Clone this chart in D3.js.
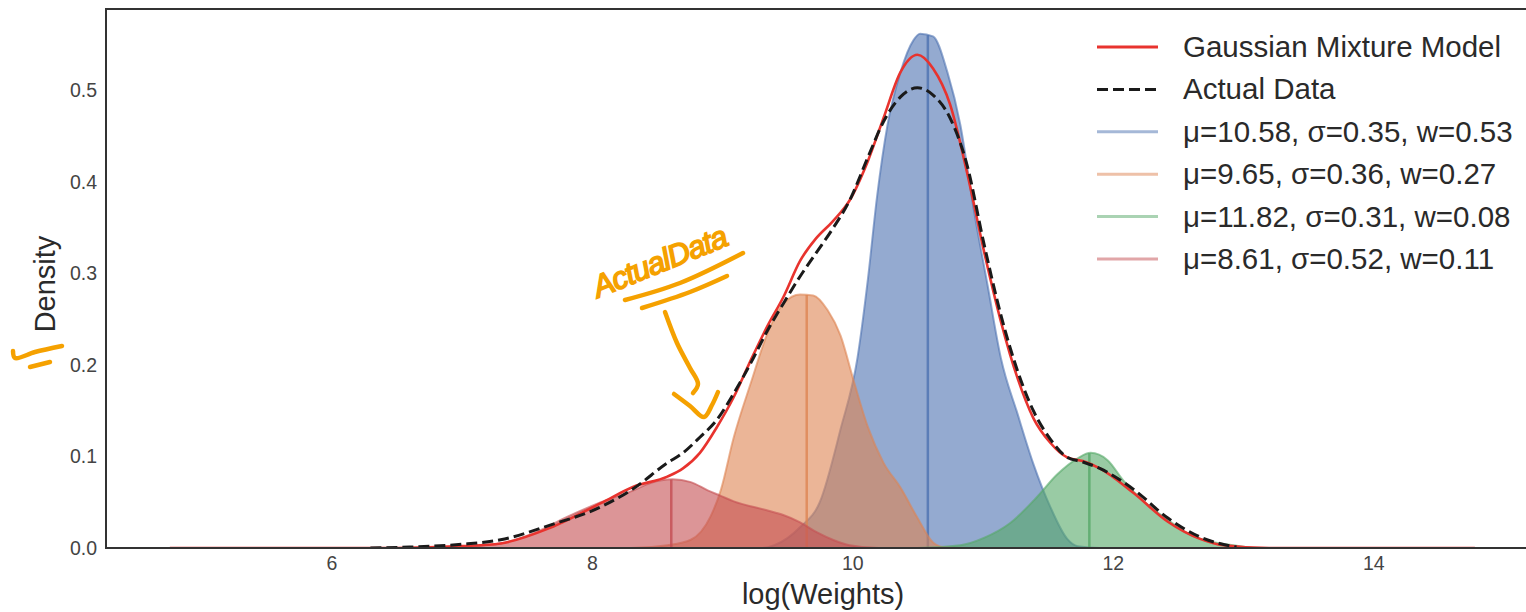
<!DOCTYPE html>
<html>
<head>
<meta charset="utf-8">
<script src="https://cdn.jsdelivr.net/npm/d3@7"></script>
<style>
  body { margin: 0; background: #fff; }
  svg { display: block; font-family: "Liberation Sans", Arial, sans-serif; }
</style>
</head>
<body>
<svg id="chart" width="1526" height="612"></svg>
<script>
// --- data: [log(weight), density] ---
var gmmLine = [[4.76,0],[6.5,0],[7.0,0.002],[7.3,0.005],[7.68,0.022],[8.07,0.049],[8.32,0.067],[8.58,0.078],
  [8.7,0.087],[8.83,0.104],[8.96,0.132],[9.09,0.165],[9.22,0.205],[9.35,0.243],[9.47,0.274],[9.6,0.314],
  [9.72,0.338],[9.85,0.357],[9.98,0.38],[10.12,0.423],[10.24,0.47],[10.37,0.52],[10.5,0.539],[10.62,0.524],
  [10.75,0.485],[10.88,0.411],[11.01,0.325],[11.14,0.248],[11.27,0.185],[11.39,0.142],[11.52,0.115],
  [11.65,0.099],[11.77,0.095],[11.9,0.087],[12.16,0.06],[12.42,0.029],[12.67,0.01],[12.85,0.003],[13.2,0],[14.78,0]];

var actualData = [[6.3,0],[6.6,0.001],[7.0,0.004],[7.3,0.009],[7.68,0.025],[8.07,0.045],
  [8.32,0.065],[8.58,0.093],[8.7,0.104],[8.83,0.121],[8.96,0.14],[9.09,0.169],[9.22,0.202],[9.35,0.238],
  [9.47,0.267],[9.6,0.297],[9.72,0.322],[9.85,0.349],[9.98,0.38],[10.12,0.427],[10.24,0.466],[10.37,0.493],
  [10.5,0.503],[10.62,0.495],[10.75,0.47],[10.88,0.419],[11.01,0.333],[11.14,0.255],[11.27,0.193],
  [11.39,0.15],[11.52,0.119],[11.65,0.099],[11.77,0.094],[11.9,0.087],[12.16,0.064],[12.42,0.033],
  [12.67,0.012],[12.95,0.001]];

var compBlue = [[4.76,0],[9.3,0],[9.4,0.003],[9.6,0.023],[9.75,0.05],[9.91,0.13],[10.04,0.208],[10.12,0.294],
  [10.19,0.384],[10.27,0.462],[10.37,0.52],[10.47,0.555],[10.52,0.562],[10.62,0.559],[10.73,0.52],
  [10.83,0.462],[10.93,0.372],[11.04,0.286],[11.14,0.208],[11.27,0.146],[11.39,0.092],[11.52,0.045],
  [11.65,0.01],[11.73,0.002],[11.9,0],[14.78,0]];
var compOrange = [[4.76,0],[8.3,0],[8.58,0.003],[8.76,0.009],[8.91,0.034],[8.99,0.063],[9.09,0.121],[9.22,0.18],
  [9.35,0.235],[9.47,0.267],[9.6,0.277],[9.7,0.276],[9.81,0.26],[9.91,0.232],[10.01,0.183],[10.12,0.132],
  [10.24,0.093],[10.37,0.066],[10.5,0.033],[10.62,0.006],[10.7,0.001],[10.9,0],[14.78,0]];
var compGreen = [[4.76,0],[10.5,0],[10.83,0.003],[11.01,0.011],[11.21,0.027],[11.42,0.056],[11.57,0.08],
  [11.73,0.098],[11.83,0.104],[11.96,0.096],[12.08,0.074],[12.23,0.052],[12.42,0.031],[12.6,0.014],
  [12.75,0.007],[12.93,0.003],[13.1,0],[14.78,0]];
var compRed = [[4.76,0],[6.6,0],[7.0,0.001],[7.17,0.003],[7.3,0.005],[7.55,0.016],[7.81,0.034],[8.07,0.05],
  [8.32,0.063],[8.45,0.071],[8.62,0.075],[8.76,0.072],[8.89,0.063],[8.99,0.057],[9.09,0.051],[9.35,0.041],
  [9.47,0.036],[9.6,0.028],[9.73,0.017],[9.85,0.009],[9.98,0.003],[10.2,0],[14.78,0]];

var compMeans = [10.58, 9.65, 11.82, 8.61];
var compSigmas = ["0.35", "0.36", "0.31", "0.52"];
var compWeights = ["0.53", "0.27", "0.08", "0.11"];
var compColors = ["#4c72b0", "#dd8452", "#55a868", "#c44e52"];
var compCurves = [compBlue, compOrange, compGreen, compRed];

var xTicks = [6, 8, 10, 12, 14];
var yTicks = [0, 0.1, 0.2, 0.3, 0.4, 0.5];

// --- layout ---
var svg = d3.select("#chart");
var plotLeft = 106, plotTop = 9, plotRight = 1540, plotBottom = 548;
var x = d3.scaleLinear().domain([4.27, 15.28]).range([plotLeft, plotRight]);
var y = d3.scaleLinear().domain([0, 0.589]).range([plotBottom, plotTop]);

svg.append("defs").append("clipPath").attr("id", "plotclip")
  .append("rect").attr("x", plotLeft).attr("y", plotTop)
  .attr("width", plotRight - plotLeft).attr("height", plotBottom - plotTop);

var plot = svg.append("g").attr("clip-path", "url(#plotclip)");

var line = d3.line().x(function(d){ return x(d[0]); }).y(function(d){ return y(d[1]); }).curve(d3.curveMonotoneX);
var area = d3.area().x(function(d){ return x(d[0]); }).y0(y(0)).y1(function(d){ return y(d[1]); }).curve(d3.curveMonotoneX);

// value of a curve at v (linear between read points)
function valueAt(curve, v){
  for (var i = 1; i < curve.length; i++){
    if (curve[i][0] >= v){
      var a = curve[i-1], b = curve[i];
      return a[1] + (b[1]-a[1]) * (v-a[0]) / (b[0]-a[0]);
    }
  }
  return 0;
}

// components: fill, edge, mean line
compCurves.forEach(function(c, i){
  plot.append("path").attr("d", area(c)).attr("fill", compColors[i]).attr("fill-opacity", 0.6);
  plot.append("path").attr("d", line(c)).attr("fill", "none")
    .attr("stroke", compColors[i]).attr("stroke-opacity", 0.6).attr("stroke-width", 2);
  plot.append("line")
    .attr("x1", x(compMeans[i])).attr("x2", x(compMeans[i]))
    .attr("y1", y(0)).attr("y2", y(valueAt(c, compMeans[i])))
    .attr("stroke", compColors[i]).attr("stroke-opacity", 0.8).attr("stroke-width", 2.5);
});

plot.append("path").attr("d", line(gmmLine)).attr("fill", "none")
  .attr("stroke", "#e8332e").attr("stroke-width", 2.6);
plot.append("path").attr("d", line(actualData)).attr("fill", "none")
  .attr("stroke", "#1a1a1a").attr("stroke-width", 3).attr("stroke-dasharray", "11,5");

// spines
svg.append("path")
  .attr("d", "M" + plotRight + "," + plotTop + "H" + plotLeft + "V" + plotBottom + "H" + plotRight)
  .attr("fill", "none").attr("stroke", "#333").attr("stroke-width", 2);

// axes
var xAxis = svg.append("g").attr("transform", "translate(0," + plotBottom + ")")
  .call(d3.axisBottom(x).tickValues(xTicks).tickSize(0).tickPadding(8).tickFormat(d3.format("d")));
var yAxis = svg.append("g").attr("transform", "translate(" + plotLeft + ",0)")
  .call(d3.axisLeft(y).tickValues(yTicks).tickSize(0).tickPadding(9).tickFormat(d3.format(".1f")));
[xAxis, yAxis].forEach(function(a){
  a.select(".domain").remove();
  a.selectAll("text").attr("fill", "#444").style("font-size", "19.5px")
    .style("font-family", "'Liberation Sans', Arial, sans-serif");
});

svg.append("text").attr("x", (plotLeft + plotRight) / 2).attr("y", 604).attr("text-anchor", "middle")
  .attr("fill", "#2a2a2a").style("font-size", "29px").text("log(Weights)");
svg.append("text").attr("transform", "translate(55,284) rotate(-90)").attr("text-anchor", "middle")
  .attr("fill", "#2a2a2a").style("font-size", "29px").text("Density");

// legend
var legendLabels = ["Gaussian Mixture Model", "Actual Data"].concat(compMeans.map(function(m, i){
  return "\u03bc=" + m + ", \u03c3=" + compSigmas[i] + ", w=" + compWeights[i];
}));
var legend = svg.append("g").attr("transform", "translate(1097,47)");
legendLabels.forEach(function(t, i){
  var g = legend.append("g").attr("transform", "translate(0," + i * 42.4 + ")");
  var l = g.append("line").attr("x1", 0).attr("x2", 61).attr("y1", 0).attr("y2", 0);
  if (i === 0) l.attr("stroke", "#e8332e").attr("stroke-width", 2.8);
  else if (i === 1) l.attr("stroke", "#1a1a1a").attr("stroke-width", 3).attr("stroke-dasharray", "11,5");
  else l.attr("stroke", compColors[i-2]).attr("stroke-opacity", 0.5).attr("stroke-width", 3);
  g.append("text").attr("x", 86).attr("y", 10).attr("fill", "#2a2a2a").style("font-size", "29.5px").text(t);
});

// hand-drawn orange annotation
var ink = "#f5a100";
var note = svg.append("g").attr("fill", "none").attr("stroke", ink).attr("stroke-width", 4.5)
  .attr("stroke-linecap", "round").attr("stroke-linejoin", "round");
var scribble = d3.line().curve(d3.curveCatmullRom);
var strokes = [
  [[625,300],[680,283],[743,253]],
  [[642,308],[690,292],[727,276]],
  [[665,312],[677,343],[690,368],[698,384],[693,393]],
  [[674,394],[690,406],[704,417],[712,405],[718,392]],
  [[13,351],[15,358],[35,352],[62,346]],
  [[30,367],[50,362]]
];
strokes.forEach(function(s){ note.append("path").attr("d", scribble(s)); });
svg.append("text").attr("transform", "translate(598,298) rotate(-22)")
  .attr("fill", ink).attr("stroke", ink).attr("stroke-width", 1.6)
  .style("font-size", "31px").style("font-style", "italic").style("letter-spacing", "-1px")
  .text("ActualData");
</script>
</body>
</html>
